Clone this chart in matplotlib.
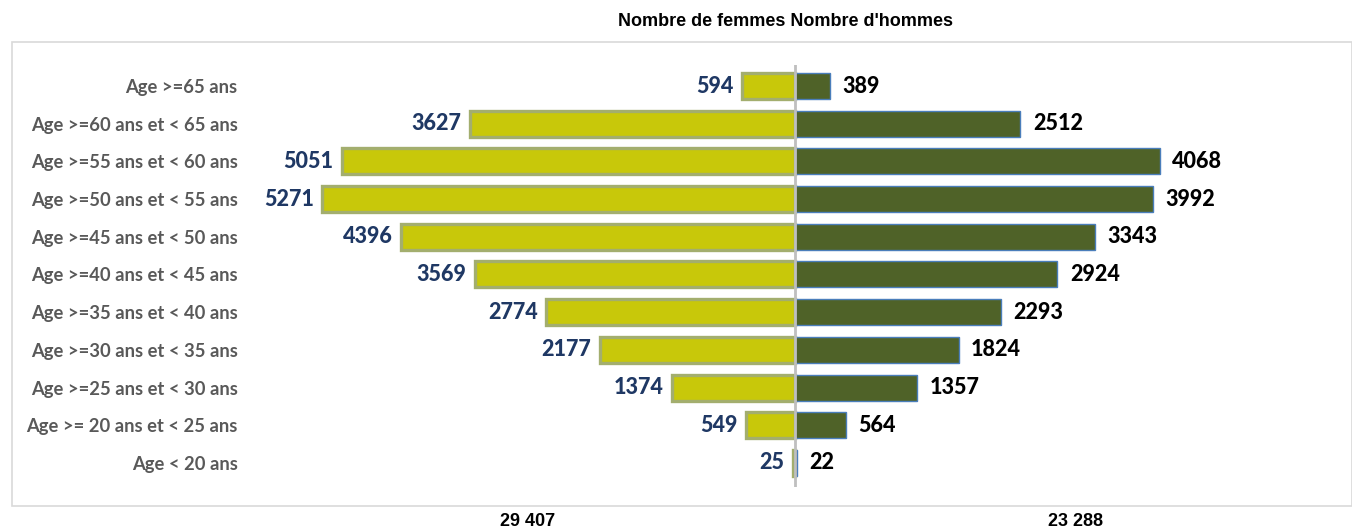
import matplotlib.pyplot as plt
from matplotlib.patches import Rectangle

tranches = [
    "Age < 20 ans",
    "Age >= 20 ans et < 25 ans",
    "Age >=25 ans et < 30 ans",
    "Age >=30 ans et < 35 ans",
    "Age >=35 ans et < 40 ans",
    "Age >=40 ans et < 45 ans",
    "Age >=45 ans et < 50 ans",
    "Age >=50 ans et < 55 ans",
    "Age >=55 ans et < 60 ans",
    "Age >=60 ans et < 65 ans",
    "Age >=65 ans",
]
femmes = [25, 549, 1374, 2177, 2774, 3569, 4396, 5271, 5051, 3627, 594]
hommes = [22, 564, 1357, 1824, 2293, 2924, 3343, 3992, 4068, 2512, 389]
total_femmes = "29 407"
total_hommes = "23 288"

W, H = 1352, 529
fig = plt.figure(figsize=(W / 100, H / 100), dpi=100)

# cadre gris clair
fig.patches.append(Rectangle((12 / W, 1 - 506 / H), (1352 - 12) / W, (506 - 42) / H,
                             transform=fig.transFigure, fill=False,
                             edgecolor="#D9D9D9", linewidth=1.2))

ax = fig.add_axes([250 / W, 1 - 487 / H, (1340 - 250) / W, (487 - 65) / H])
y = list(range(len(tranches)))

ax.barh(y, [-v for v in femmes], height=0.69, color="#C8C80A",
        edgecolor="#A3AE6E", linewidth=2.4)
ax.barh(y, hommes, height=0.69, color="#4F6228",
        edgecolor="#4A7EBB", linewidth=1.0)
ax.axvline(0, color="#BFBFBF", linewidth=2, zorder=3)

for i in y:
    ax.annotate(str(femmes[i]), (-femmes[i], i), xytext=(-6, 0),
                textcoords="offset points", ha="right", va="center",
                fontsize=15.5, fontweight=900, color="#1F3864", family="Lato")
    ax.annotate(str(hommes[i]), (hommes[i], i), xytext=(9, 0),
                textcoords="offset points", ha="left", va="center",
                fontsize=15.5, fontweight=900, color="black", family="Lato")

ax.set_xlim(-6076, 6076)
ax.set_ylim(-0.64, 10.56)
ax.set_yticks(y)
ax.set_yticklabels(tranches, fontsize=13.2, fontweight="bold", color="#595959",
                   family="Lato")
ax.tick_params(axis="y", length=0, pad=9)
ax.set_xticks([])
for s in ax.spines.values():
    s.set_visible(False)

fig.text(786 / W, 1 - 22 / H, "Nombre de femmes Nombre d'hommes",
         ha="center", va="center", fontsize=13, fontweight="bold",
         family="Liberation Sans")
fig.text(528 / W, 1 - 521 / H, total_femmes, ha="center", va="center",
         fontsize=13, fontweight="bold", family="Liberation Sans")
fig.text(1075 / W, 1 - 521 / H, total_hommes, ha="center", va="center",
         fontsize=13, fontweight="bold", family="Liberation Sans")

fig.savefig("out.png", dpi=100)
